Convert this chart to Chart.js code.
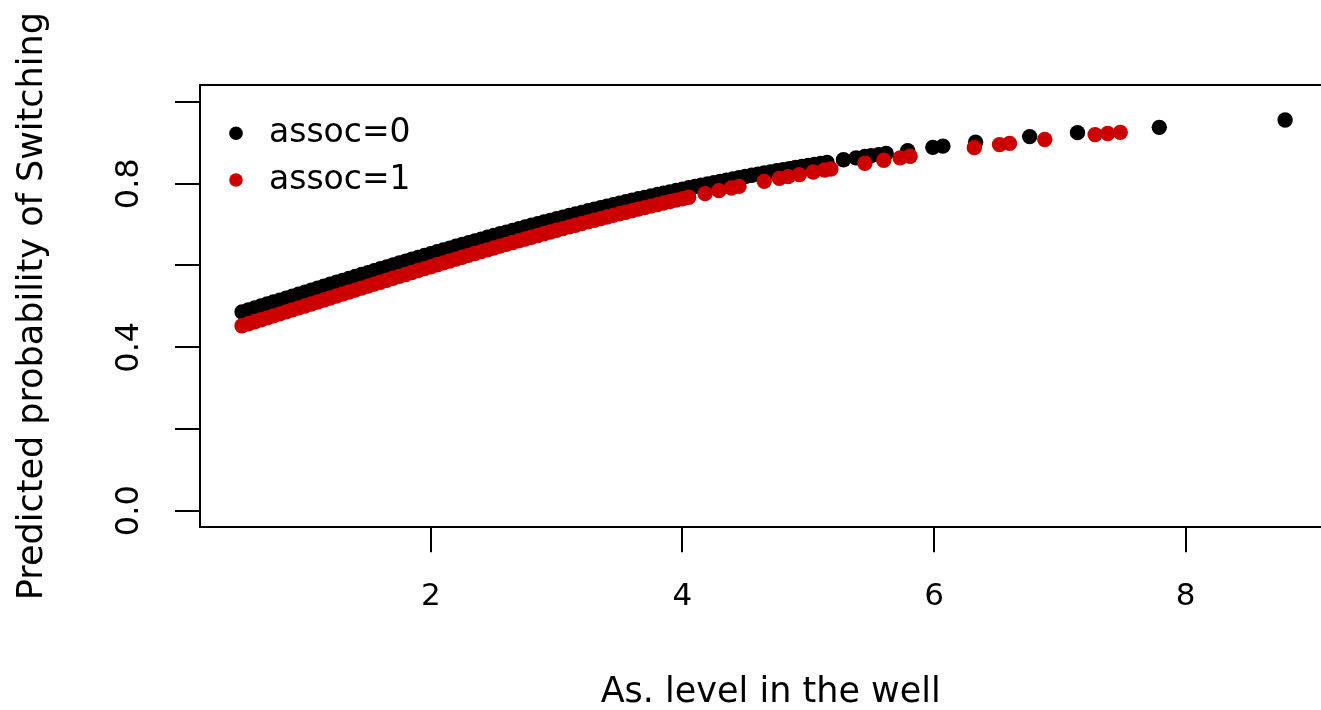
<!DOCTYPE html>
<html><head><meta charset="utf-8">
<script src="https://cdn.jsdelivr.net/npm/chart.js@4.4.1/dist/chart.umd.min.js"></script>
<style>
html,body{margin:0;padding:0;background:#fff;overflow:hidden;width:1321px;height:710px}
#wrap{position:relative;width:1349px;height:710px}
</style>
</head><body><div id="wrap"><canvas id="c" width="1349" height="710"></canvas></div>
<script>
// ---- data ----
const blackX = [0.50,0.55,0.60,0.65,0.70,0.75,0.80,0.85,0.90,0.95,
  1.00,1.05,1.10,1.15,1.20,1.25,1.30,1.35,1.40,1.45,
  1.50,1.55,1.60,1.65,1.70,1.75,1.80,1.85,1.90,1.95,
  2.00,2.05,2.10,2.15,2.20,2.25,2.30,2.35,2.40,2.45,
  2.50,2.55,2.60,2.65,2.70,2.75,2.80,2.85,2.90,2.95,
  3.00,3.05,3.10,3.15,3.20,3.25,3.30,3.35,3.40,3.45,
  3.50,3.55,3.60,3.65,3.70,3.75,3.80,3.85,3.90,3.95,
  4.00,4.05,4.10,4.15,4.20,4.25,4.30,4.35,4.40,4.45,
  4.50,4.55,4.60,4.65,4.70,4.75,4.80,4.85,4.90,4.95,
  5.00,5.05,5.10,5.15,
  5.28,5.38,5.45,5.50,5.56,5.62,5.79,5.99,6.07,6.33,6.76,7.14,7.79,8.79];
const blackY = [.4861,.4910,.4958,.5007,.5056,.5105,.5153,.5202,.5250,.5299,
  .5347,.5396,.5444,.5492,.5540,.5588,.5636,.5684,.5731,.5779,
  .5826,.5873,.5920,.5967,.6014,.6061,.6107,.6153,.6199,.6245,
  .6290,.6335,.6380,.6425,.6469,.6514,.6558,.6602,.6646,.6689,
  .6732,.6775,.6817,.6859,.6901,.6942,.6983,.7024,.7064,.7104,
  .7144,.7184,.7223,.7262,.7300,.7338,.7376,.7414,.7451,.7488,
  .7524,.7560,.7596,.7631,.7666,.7701,.7735,.7769,.7802,.7835,
  .7868,.7901,.7933,.7965,.7996,.8027,.8057,.8088,.8118,.8148,
  .8177,.8206,.8234,.8262,.8289,.8317,.8344,.8371,.8397,.8423,
  .8449,.8474,.8499,.8524,
  .8587,.8633,.8665,.8687,.8713,.8739,.8811,.8890,.8920,.9014,.9153,.9250,.9380,.9560];
const redX = [0.50,0.55,0.60,0.65,0.70,0.75,0.80,0.85,0.90,0.95,
  1.00,1.05,1.10,1.15,1.20,1.25,1.30,1.35,1.40,1.45,
  1.50,1.55,1.60,1.65,1.70,1.75,1.80,1.85,1.90,1.95,
  2.00,2.05,2.10,2.15,2.20,2.25,2.30,2.35,2.40,2.45,
  2.50,2.55,2.60,2.65,2.70,2.75,2.80,2.85,2.90,2.95,
  3.00,3.05,3.10,3.15,3.20,3.25,3.30,3.35,3.40,3.45,
  3.50,3.55,3.60,3.65,3.70,3.75,3.80,3.85,3.90,3.95,
  4.00,4.05,
  4.18,4.29,4.39,4.45,4.65,4.77,4.84,4.93,5.04,5.13,5.18,5.45,5.60,5.73,5.81,6.32,6.52,6.60,6.88,7.28,7.38,7.48];
const redY = [.4525,.4574,.4622,.4671,.4719,.4768,.4816,.4865,.4913,.4962,
  .5010,.5059,.5107,.5156,.5204,.5253,.5301,.5350,.5398,.5447,
  .5495,.5543,.5591,.5639,.5687,.5734,.5781,.5829,.5876,.5923,
  .5970,.6017,.6063,.6110,.6156,.6202,.6247,.6293,.6338,.6383,
  .6428,.6473,.6517,.6561,.6605,.6648,.6691,.6734,.6777,.6819,
  .6861,.6903,.6944,.6986,.7027,.7067,.7107,.7147,.7186,.7225,
  .7264,.7303,.7341,.7379,.7416,.7453,.7490,.7527,.7563,.7598,
  .7633,.7668,
  .7757,.7831,.7896,.7935,.8059,.8131,.8173,.8224,.8286,.8335,.8362,.8500,.8573,.8634,.8671,.8883,.8958,.8987,.9082,.9203,.9231,.9258];
const seriesNames = ['assoc=0', 'assoc=1'];
const xTicks = [2, 4, 6, 8];
const yTicks = [0, 0.2, 0.4, 0.6, 0.8, 1.0];
const yTickLabels = ['0.0', '', '0.4', '', '0.8', ''];
const xTitle = 'As. level in the well';
const yTitle = 'Predicted probability of Switching';

// ---- chart ----
const FONT = "'DejaVu Sans', sans-serif";
function pts(xs, ys) { return xs.map((x, i) => ({ x: x, y: ys[i] })); }

const topBorder = {
  id: 'topBorder',
  afterDatasetsDraw(chart) {
    const { ctx, chartArea: a } = chart;
    ctx.save();
    ctx.strokeStyle = '#000'; ctx.lineWidth = 2;
    ctx.beginPath(); ctx.moveTo(a.left - 1, a.top); ctx.lineTo(a.right, a.top); ctx.stroke();
    ctx.restore();
  }
};
const legendPos = {
  id: 'legendPos',
  afterLayout(chart) {
    if (chart.legend) {
      chart.legend.left = chart.chartArea.left + 5.8;
      chart.legend.top = chart.chartArea.top + 18.1;
    }
  }
};

const axisCommon = {
  grid: { drawOnChartArea: false, drawTicks: true, tickLength: 25, color: '#000', lineWidth: 2 },
  border: { display: true, color: '#000', width: 2 }
};

new Chart(document.getElementById('c'), {
  type: 'scatter',
  data: {
    datasets: [
      { label: seriesNames[0], data: pts(blackX, blackY), backgroundColor: '#000000', borderColor: '#000000',
        borderWidth: 0, pointRadius: 7.7, pointHoverRadius: 7.7, order: 1 },
      { label: seriesNames[1], data: pts(redX, redY), backgroundColor: '#CD0000', borderColor: '#CD0000',
        borderWidth: 0, pointRadius: 7.7, pointHoverRadius: 7.7, order: 0 }
    ]
  },
  options: {
    responsive: false,
    devicePixelRatio: 1,
    animation: false,
    layout: { padding: { top: 85, left: 0, right: 0, bottom: 0 } },
    scales: {
      x: Object.assign({}, axisCommon, {
        type: 'linear', min: 0.1658, max: 9.2366,
        afterBuildTicks: s => { s.ticks = xTicks.map(v => ({ value: v })); },
        afterFit: s => { s.height = 182.7; },
        ticks: { callback: v => String(v), font: { family: FONT, size: 31 }, color: '#000',
                 padding: 26, minRotation: 0, maxRotation: 0, autoSkip: false },
        title: { display: true, text: xTitle, color: '#000', font: { family: FONT, size: 35, lineHeight: 1 },
                 padding: { top: 0, bottom: 0 } }
      }),
      y: Object.assign({}, axisCommon, {
        type: 'linear', min: -0.0406, max: 1.0416,
        afterBuildTicks: s => { s.ticks = yTicks.map(v => ({ value: v })); },
        afterFit: s => { s.width = 200; },
        ticks: { callback: (v, i) => yTickLabels[i], font: { family: FONT, size: 32 }, color: '#000',
                 padding: 19.6, minRotation: 90, maxRotation: 90, crossAlign: 'center', autoSkip: false },
        title: { display: true, text: yTitle, color: '#000', font: { family: FONT, size: 35 },
                 padding: { top: 11.6, bottom: 0 } }
      })
    },
    plugins: {
      legend: {
        position: 'chartArea', align: 'start',
        labels: { usePointStyle: true, pointStyle: 'circle', boxWidth: 33, boxHeight: 9.6, padding: 13.7,
                  font: { family: FONT, size: 33 }, color: '#000',
                  sort: (a, b) => a.datasetIndex - b.datasetIndex }
      },
      tooltip: { enabled: false }
    }
  },
  plugins: [topBorder, legendPos]
});
</script>
</body></html>
